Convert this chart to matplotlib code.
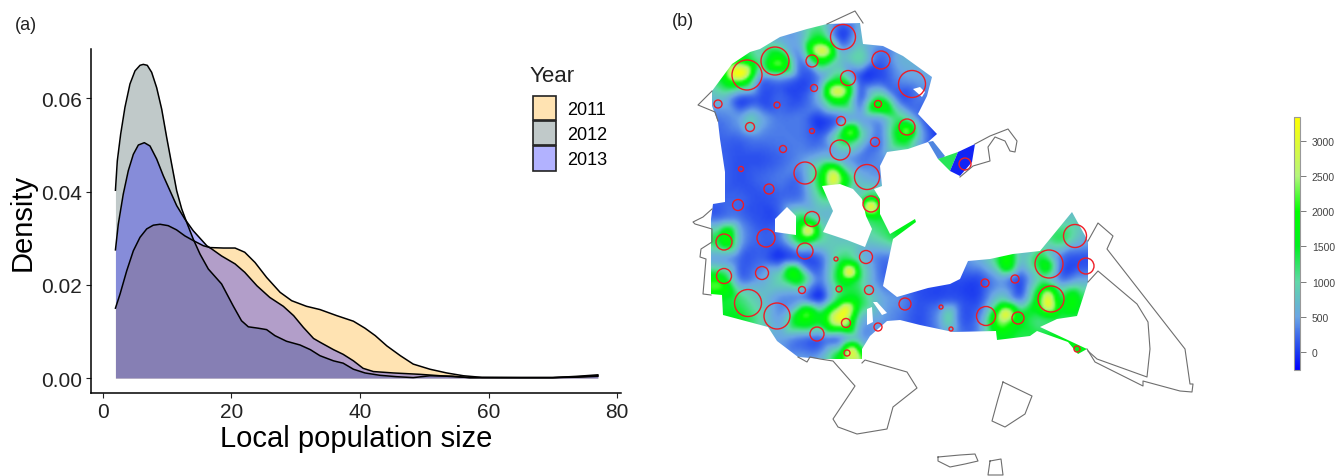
import matplotlib
matplotlib.use("Agg")
import matplotlib.pyplot as plt
import matplotlib.tri as mtri
import numpy as np
from matplotlib.colors import LinearSegmentedColormap, Normalize, to_rgba
from matplotlib.patches import Circle, PathPatch, Patch, Polygon
from matplotlib.path import Path

plt.rcParams['font.family'] = ['Liberation Sans', 'DejaVu Sans']

W, H = 1343, 477

# (a) density curves
x_2011 = [2, 2.71, 3.75, 4.78, 5.82, 6.86, 7.88, 8.93, 10.2, 11.5, 12.8, 14.1, 15.66, 16.7, 18.8, 20.6, 22.1, 23.7, 25.5, 27.6, 29.4, 31.7, 33.8, 36.4, 39, 40.8, 42.4, 44.2, 46.3, 48.3, 50.9, 53.5, 56.1, 59, 65, 70, 74, 77]
y_2011 = [.0150, .0180, .0230, .0273, .0302, .0320, .0328, .0330, .0327, .0318, .0305, .0295, .0284, .0280, .0279, .0279, .0270, .0248, .0216, .0184, .0166, .0154, .0147, .0134, .0122, .0107, .0091, .0069, .0048, .0030, .0019, .0011, .0005, .00015, .0001, .0001, .0004, .0007]
x_2012 = [2, 2.29, 2.81, 3.48, 4.26, 5.04, 5.82, 6.33, 6.95, 7.63, 8.41, 9.19, 9.97, 10.74, 11.52, 12.3, 13.08, 14.1, 15.15, 16.44, 18.5, 20.3, 21.6, 22.66, 24.2, 25.5, 26.8, 28.6, 30.7, 32.3, 33.8, 35.9, 37.4, 39, 40.8, 43.1, 45.7, 48.3, 50.9, 54.5, 57.1, 62, 70, 74, 77]
y_2012 = [.0403, .0466, .0523, .0581, .0631, .0659, .0671, .0673, .0671, .0656, .0623, .0577, .0516, .0459, .0402, .0363, .0334, .0298, .0266, .0234, .0202, .0155, .0123, .0110, .0107, .0104, .0091, .0079, .0071, .0061, .0048, .0037, .0032, .0019, .0011, .0006, .0003, .0001, .0005, .0004, .0001, .0001, .0001, .0003, .0005]
x_2013 = [2, 2.44, 3.22, 4.0, 4.78, 5.56, 6.49, 7.37, 8.41, 9.44, 10.48, 11.52, 12.8, 14.1, 16.2, 16.97, 18.5, 20.6, 22.1, 24, 26, 28.1, 29.7, 31.2, 32.8, 33.8, 35.9, 37.4, 39, 40.5, 42.1, 45.2, 49.4, 53.5, 57.1, 62, 70, 74, 77]
y_2013 = [.0275, .0330, .0395, .0445, .0480, .0500, .0505, .0498, .0470, .0434, .0402, .0370, .0341, .0316, .0284, .0277, .0262, .0245, .0227, .0198, .0173, .0154, .0134, .0109, .0085, .0077, .0061, .0051, .0037, .0021, .0014, .0011, .0008, .0004, .0001, .0001, .0001, .0002, .0004]
years = ["2011", "2012", "2013"]
colors = ["#FFA500", "#2F4F4F", "#0000FF"]
x_ticks = [0, 20, 40, 60, 80]
y_ticks = [0.00, 0.02, 0.04, 0.06]

# (b) heat values in hundreds, read every 20 px over the map
grid_x = np.arange(700, 1101, 20)
grid_y = np.arange(20, 361, 20)
heat = [
    [3, 3, 3, 3, 5, 6, 10, 3, 6, 5, 5, 5, 5, 5, 5, 5, 5, 5, 5, 5, 5],
    [5, 6, 8, 7, 6, 6, 16, 1, 7, 5, 5, 5, 5, 5, 5, 5, 5, 5, 5, 5, 5],
    [8, 10, 17, 10, 20, 3, 20, 8, 10, 2, 6, 6, 5, 5, 5, 5, 5, 5, 5, 5, 5],
    [8, 14, 26, 4, 4, 1, 4, 14, 1, 1, 4, 5, 5, 5, 5, 5, 5, 5, 5, 5, 5],
    [7, 7, 1, 1, 2, 1, 7, 20, 2, 14, 2, 3, 3, 3, 3, 3, 3, 3, 3, 3, 3],
    [3, 3, 5, 6, 3, 3, 0, 3, 5, 5, 12, 3, 0, 3, 3, 3, 3, 3, 3, 3, 3],
    [2, 2, 2, 3, 3, 3, 2, 13, 10, 3, 16, 6, 0, 3, 3, 3, 3, 3, 3, 3, 3],
    [2, 2, 1, 1, 2, 4, 7, 6, 3, 4, 4, 4, 3, 3, 3, 3, 3, 3, 3, 3, 3],
    [2, 2, 1, 2, 3, 3, 15, 24, 7, 5, 5, 5, 5, 5, 5, 5, 5, 5, 5, 5, 5],
    [2, 2, 2, 1, 2, 3, 10, 10, 10, 14, 14, 14, 5, 5, 5, 5, 5, 5, 5, 5, 5],
    [3, 3, 3, 1, 2, 14, 8, 8, 10, 14, 16, 16, 5, 5, 5, 5, 5, 5, 8, 8, 5],
    [15, 15, 6, 2, 3, 16, 11, 8, 8, 10, 14, 14, 5, 5, 5, 5, 5, 9, 13, 7, 5],
    [5, 5, 2, 2, 0, 1, 2, 12, 8, 3, 3, 2, 4, 4, 6, 15, 8, 14, 3, 1, 1],
    [18, 18, 3, 5, 10, 16, 3, 16, 12, 3, 3, 1, 1, 1, 1, 5, 1, 10, 3, 5, 5],
    [15, 15, 12, 8, 4, 4, 0, 14, 14, 6, 4, 1, 1, 1, 1, 9, 3, 20, 14, 14, 14],
    [15, 15, 15, 10, 5, 19, 16, 32, 8, 5, 3, 1, 5, 2, 4, 25, 16, 12, 13, 13, 13],
    [15, 15, 15, 7, 5, 3, 2, 3, 6, 5, 3, 2, 3, 3, 4, 15, 13, 14, 16, 16, 16],
    [15, 12, 8, 5, 5, 5, 6, 18, 25, 5, 5, 5, 5, 5, 5, 14, 14, 14, 16, 16, 16],
]
# hot spot centres read between the grid lines
spot_x = [740, 778, 823, 837, 878, 851, 906, 836, 871, 808, 750, 725, 720, 795, 850, 845, 805, 852, 1004, 1047, 1005, 1045, 1075, 948, 1070]
spot_y = [78, 63, 52, 94, 105, 135, 133, 178, 205, 233, 122, 237, 285, 275, 275, 310, 316, 352, 317, 303, 263, 265, 300, 317, 233]
spot_heat = [33, 24, 31, 31, 20, 25, 25, 31, 33, 31, 9, 21, 22, 22, 33, 33, 24, 31, 33, 33, 22, 19, 19, 10, 11]

cbar_ticks = [0, 500, 1000, 1500, 2000, 2500, 3000]
heat_min, heat_max = -255, 3340
cmap_values = [-255, 0, 500, 1000, 1500, 2000, 2500, 3340]
cmap_colors = ["#0000ff", "#1c3cf0", "#6aa5e5", "#60d8a8", "#00f020", "#00ff00", "#b4f57c", "#ffff00"]

# map shapes, in picture pixels
land = [(712, 97), (712, 92), (732, 65), (750, 53), (760, 50), (780, 38), (807, 30), (827, 25), (860, 24), (863, 45), (883, 47), (903, 57),
        (932, 78), (927, 97), (918, 115), (937, 135), (928, 143), (908, 150), (887, 153), (880, 167), (882, 187), (874, 190), (880, 200), (880, 215),
        (890, 235), (915, 220), (916, 223), (893, 240), (883, 287), (897, 298), (928, 289), (950, 285), (960, 280), (968, 262), (990, 260), (1013, 255),
        (1040, 252), (1072, 213), (1088, 242), (1088, 283), (1077, 317), (1057, 320), (1040, 328), (1087, 350), (1078, 355), (1068, 343), (1037, 332),
        (1030, 337), (997, 341), (996, 332), (953, 333), (920, 326), (900, 321), (887, 322), (870, 337), (862, 350), (862, 360), (823, 360),
        (798, 358), (777, 342), (768, 328), (723, 316), (722, 296), (711, 295), (711, 220), (713, 205), (725, 203), (725, 173), (720, 140), (718, 123), (712, 107)]
strip = [(928, 143), (933, 142), (945, 157), (943, 159), (938, 160)]
islet_green = [(938, 160), (958, 153), (950, 172), (948, 170)]
islet_blue = [(958, 153), (975, 145), (972, 163), (960, 177), (950, 172)]
holes = [
    [(822, 187), (840, 185), (853, 190), (862, 200), (866, 217), (872, 230), (865, 248), (847, 241), (823, 233), (833, 212)],
    [(775, 220), (787, 208), (796, 217), (796, 236), (775, 233)],
    [(867, 310), (872, 308), (873, 323), (867, 326)],
    [(873, 303), (877, 303), (887, 314), (882, 316)],
    [(913, 90), (920, 88), (925, 93), (922, 98)],
]
outlines = [
    [(827, 25), (855, 12), (863, 24)],
    [(712, 92), (698, 106), (715, 113), (718, 122)],
    [(712, 210), (703, 218), (693, 223), (695, 225), (712, 230), (712, 243), (701, 250), (700, 258), (706, 260), (703, 295), (711, 296)],
    [(798, 358), (807, 363), (810, 358), (820, 360), (833, 362), (855, 387), (833, 420), (838, 428), (857, 435), (887, 430), (893, 408), (917, 389), (907, 373), (865, 361), (862, 364)],
    [(1003, 383), (1032, 397), (1025, 415), (1005, 428), (992, 422), (998, 400), (1003, 383)],
    [(938, 458), (960, 456), (975, 455), (978, 462), (965, 465), (950, 468), (938, 462), (938, 458)],
    [(990, 462), (1001, 460), (1003, 476), (988, 476), (990, 462)],
    [(1088, 242), (1098, 224), (1113, 237), (1107, 250), (1185, 350), (1190, 385), (1193, 385), (1192, 393), (1180, 392), (1143, 382), (1143, 387), (1095, 363), (1087, 350)],
    [(1088, 283), (1098, 272), (1137, 305), (1148, 323), (1150, 350), (1147, 378), (1097, 360), (1088, 352)],
    [(975, 145), (990, 137), (1008, 130), (1017, 142), (1015, 153), (1010, 152), (1005, 142), (995, 138), (988, 148), (990, 162), (973, 167), (960, 178)],
]
site_x = [747, 775, 843, 812, 881, 912, 848, 814, 718, 777, 878, 841, 750, 812, 907, 875, 783, 840, 741, 805, 867, 965, 769, 738, 871, 812,
          724, 766, 805, 866, 836, 724, 762, 802, 839, 869, 748, 777, 905, 941, 846, 878, 951, 817, 847,
          1075, 1049, 1086, 985, 1015, 1051, 986, 1018, 1077]
site_y = [76, 62, 38, 62, 61, 85, 79, 89, 105, 106, 105, 122, 128, 132, 128, 143, 150, 151, 170, 174, 178, 165, 190, 206, 205, 220,
          243, 239, 252, 258, 260, 277, 274, 291, 290, 291, 304, 317, 305, 308, 324, 328, 330, 335, 354,
          237, 265, 267, 284, 280, 300, 317, 319, 350]
site_r = [15, 14, 12.5, 6, 9, 13.5, 7.5, 3.5, 4, 3, 3.5, 4.5, 4.5, 2.5, 8, 4.5, 3.5, 10, 2.5, 11, 12.5, 6, 5, 5.5, 8, 7.5,
          8, 9, 8, 6.5, 2, 7.5, 6.5, 3.5, 3, 4.5, 13.5, 13, 6, 2, 4.5, 4, 2, 7, 3,
          11.5, 14, 8, 4, 4, 13, 9.5, 6, 3]


def box(left, top, right, bottom):
    return [left / W, 1 - bottom / H, (right - left) / W, (bottom - top) / H]


def soften(values):
    # small binomial blur, the map in the picture has no hard corners
    kernel = np.convolve([1, 4, 6, 4, 1], [1, 4, 6, 4, 1]) / 256
    pad = len(kernel) // 2
    padded = np.pad(values, pad, mode="edge")
    padded = np.apply_along_axis(np.convolve, 0, padded, kernel, mode="same")
    padded = np.apply_along_axis(np.convolve, 1, padded, kernel, mode="same")
    return padded[pad:-pad, pad:-pad]


fig = plt.figure(figsize=(W / 100, H / 100), dpi=100)

# panel a
ax = fig.add_axes(box(91, 50, 621, 394))
for color, xs, ys in zip(colors, [x_2011, x_2012, x_2013], [y_2011, y_2012, y_2013]):
    ax.fill_between(xs, ys, 0, color=color, alpha=0.3, linewidth=0)
    ax.plot(xs, ys, color="black", lw=1.1)
ax.set_xlim(-1.8, 80.6)
ax.set_ylim(-0.0032, 0.0706)
ax.set_xticks(x_ticks)
ax.set_yticks(y_ticks)
ax.set_yticklabels([f"{v:.2f}" for v in y_ticks])
ax.tick_params(labelsize=15, length=3.5, width=0.8, colors="#222222", pad=3)
ax.spines[["top", "right"]].set_visible(False)
ax.spines[["left", "bottom"]].set_linewidth(1.1)
ax.set_xlabel("Local population size", fontsize=21, labelpad=2)
ax.set_ylabel("Density", fontsize=21, labelpad=3)
handles = [Patch(facecolor=to_rgba(c, 0.3), edgecolor="#222222", linewidth=1.2) for c in colors]
leg = ax.legend(handles, years, loc="upper left", bbox_to_anchor=(533 / W, 1 - 97 / H),
                bbox_transform=fig.transFigure, frameon=False, fontsize=13,
                handlelength=1.28, handleheight=1.68, labelspacing=0.06, handletextpad=0.6, borderpad=0, borderaxespad=0)
fig.text(530 / W, 1 - 76 / H, "Year", fontsize=16, va="center", color="#222222")

fig.text(15 / W, 1 - 25 / H, "(a)", fontsize=13, va="center", color="#222222")
fig.text(672 / W, 1 - 22 / H, "(b)", fontsize=13, va="center", color="#222222")

# panel b
mp = fig.add_axes(box(670, 0, 1230, 477))
cmap = LinearSegmentedColormap.from_list(
    "heat", [((v - heat_min) / (heat_max - heat_min), c) for v, c in zip(cmap_values, cmap_colors)])
norm = Normalize(heat_min, heat_max)

gx, gy = np.meshgrid(grid_x, grid_y)
tri_x = np.r_[gx.ravel(), spot_x].astype(float)
tri_y = np.r_[gy.ravel(), spot_y].astype(float)
tri_z = np.r_[np.array(heat).ravel(), spot_heat] * 100.0
tri = mtri.Triangulation(tri_x, tri_y)
smooth = mtri.CubicTriInterpolator(tri, tri_z, kind="geom")
mesh_x, mesh_y = np.meshgrid(np.arange(700, 1101, 2), np.arange(20, 361, 2))
field = soften(np.clip(np.ma.filled(smooth(mesh_x, mesh_y), 300.0), heat_min, heat_max))
im = mp.imshow(field, cmap=cmap, norm=norm, interpolation="bilinear", aspect="auto", extent=(699, 1101, 361, 19))
im.set_clip_path(PathPatch(Path(land + land[:1]), transform=mp.transData))
for hole in holes:
    mp.add_patch(Polygon(hole, closed=True, facecolor="white", edgecolor="none"))
mp.add_patch(Polygon(strip, closed=True, facecolor="#4f86e0", edgecolor="none"))
mp.add_patch(Polygon(islet_green, closed=True, facecolor=cmap(norm(1300)), edgecolor="none"))
mp.add_patch(Polygon(islet_blue, closed=True, facecolor=cmap(norm(-100)), edgecolor="none"))
for shape in outlines:
    xs, ys = zip(*shape)
    mp.plot(xs, ys, color="#6e6e6e", lw=0.8)
for cx, cy, r in zip(site_x, site_y, site_r):
    mp.add_patch(Circle((cx, cy), r, fill=False, edgecolor="#ee1c25", lw=1.0))
mp.set_xlim(670, 1230)
mp.set_ylim(477, 0)
mp.axis("off")

cax = fig.add_axes(box(1294, 118, 1300, 371))
cb = fig.colorbar(im, cax=cax, ticks=cbar_ticks)
cb.outline.set_edgecolor("#999999")
cb.outline.set_linewidth(0.8)
cb.ax.tick_params(labelsize=7.5, length=4, width=0.6, color="#666666", labelcolor="#444444", pad=4.5)

fig.savefig("out.png", dpi=100)
